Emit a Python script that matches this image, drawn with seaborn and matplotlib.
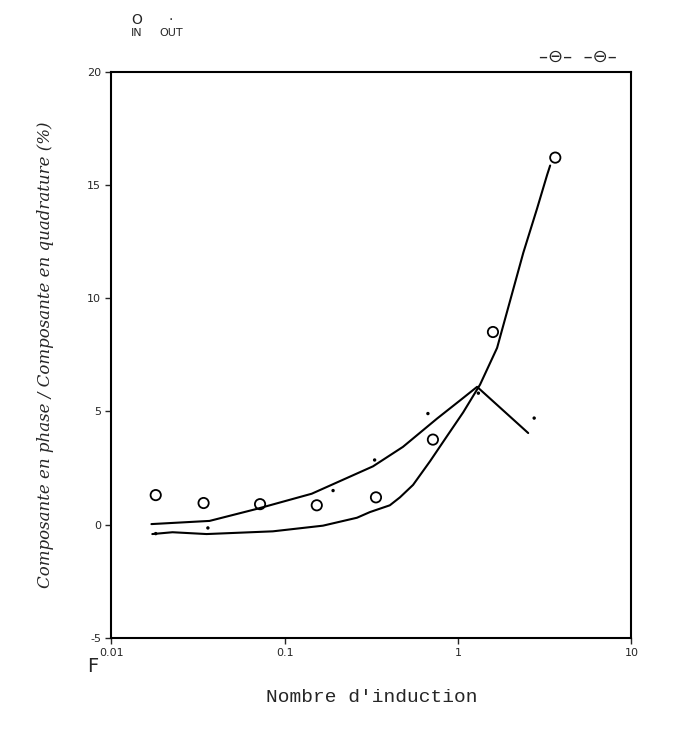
import matplotlib
matplotlib.use("Agg")
import matplotlib.pyplot as plt
import seaborn as sns
import pandas as pd

in_x = [0.018, 0.034, 0.072, 0.153, 0.336, 0.716, 1.59, 3.64]
in_y = [1.3, 0.95, 0.9, 0.85, 1.2, 3.75, 8.5, 16.2]
out_x = [0.018, 0.036, 0.19, 0.33, 0.67, 1.31, 2.75]
out_y = [-0.4, -0.15, 1.5, 2.85, 4.9, 5.8, 4.7]

# hand-drawn fitted curves
in_curve_x = [0.0172, 0.0225, 0.0354, 0.0853, 0.166, 0.261, 0.31, 0.404, 0.462,
              0.55, 0.69, 0.863, 1.07, 1.34, 1.68, 2.0, 2.38, 2.86, 3.27, 3.40]
in_curve_y = [-0.42, -0.34, -0.42, -0.3, -0.05, 0.3, 0.55, 0.85, 1.2,
              1.75, 2.8, 3.9, 4.95, 6.18, 7.8, 9.9, 12.0, 13.96, 15.45, 15.85]
out_curve_x = [0.017, 0.0368, 0.0689, 0.143, 0.323, 0.481, 0.757, 1.027, 1.288, 2.54]
out_curve_y = [0.02, 0.16, 0.69, 1.36, 2.57, 3.43, 4.68, 5.48, 6.08, 4.04]

x_ticks = [0.01, 0.1, 1, 10]
x_tick_labels = ["0.01", "0.1", "1", "10"]
y_ticks = [-5, 0, 5, 10, 15, 20]

sns.set_style("white")
plt.rcParams["font.family"] = ["DejaVu Sans"]
plt.rcParams["axes.unicode_minus"] = False

fig = plt.figure(figsize=(6.84, 7.53), dpi=100)
ax = fig.add_axes([0.163, 0.153, 0.76, 0.752])

df_in_c = pd.DataFrame({"x": in_curve_x, "y": in_curve_y})
df_out_c = pd.DataFrame({"x": out_curve_x, "y": out_curve_y})
sns.lineplot(data=df_in_c, x="x", y="y", color="black", lw=1.5, ax=ax)
sns.lineplot(data=df_out_c, x="x", y="y", color="black", lw=1.5, ax=ax)

sns.scatterplot(x=in_x, y=in_y, marker="o", s=55, facecolor="none",
                edgecolor="black", linewidth=1.3, ax=ax)
sns.scatterplot(x=out_x, y=out_y, marker="o", s=6, color="black",
                edgecolor="none", ax=ax)

ax.set_xscale("log")
ax.set_xlim(0.01, 10)
ax.set_ylim(-5, 20)
ax.set_xticks(x_ticks)
ax.set_xticklabels(x_tick_labels)
ax.minorticks_off()
ax.set_yticks(y_ticks)
ax.tick_params(axis="both", labelsize=8, length=4, width=1, direction="out",
               bottom=True, left=True)
for s in ax.spines.values():
    s.set_linewidth(1.5)
    s.set_color("black")

ax.set_xlabel("Nombre d'induction", family="Liberation Mono", fontsize=14,
              labelpad=22)
ax.set_ylabel("Composante en phase / Composante en quadrature (%)",
              family="DejaVu Serif", style="italic", fontsize=12, labelpad=24)

# legend symbols drawn by hand at the top
fig.text(0.200, 0.968, "O", fontsize=10, ha="center")
fig.text(0.200, 0.952, "IN", fontsize=8, ha="center")
fig.text(0.250, 0.968, "·", fontsize=10, ha="center")
fig.text(0.250, 0.952, "OUT", fontsize=8, ha="center")
fig.text(0.845, 0.918, "–⊖–  –⊖–", fontsize=13, ha="center")
fig.text(0.128, 0.108, "F", fontsize=14)

fig.savefig("out.png", dpi=100)
